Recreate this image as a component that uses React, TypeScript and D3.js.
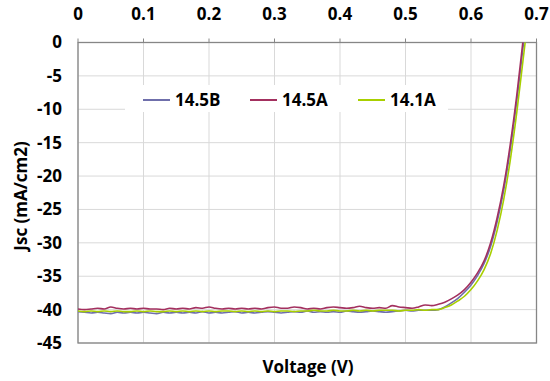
import * as d3 from "d3";

const voltage = [
  0, 0.01, 0.02, 0.03, 0.04, 0.05, 0.06, 0.07, 0.08, 0.09,
  0.1, 0.11, 0.12, 0.13, 0.14, 0.15, 0.16, 0.17, 0.18, 0.19,
  0.2, 0.21, 0.22, 0.23, 0.24, 0.25, 0.26, 0.27, 0.28, 0.29,
  0.3, 0.31, 0.32, 0.33, 0.34, 0.35, 0.36, 0.37, 0.38, 0.39,
  0.4, 0.41, 0.42, 0.43, 0.44, 0.45, 0.46, 0.47, 0.48, 0.49,
  0.5, 0.51, 0.52, 0.53, 0.54, 0.55, 0.56, 0.57, 0.58, 0.59,
  0.6, 0.61, 0.62, 0.63, 0.64, 0.65, 0.66, 0.67, 0.68, 0.69,
];

const j145B = [
  -40.3, -40.4, -40.5, -40.4, -40.5, -40.6, -40.4, -40.5, -40.4, -40.5,
  -40.4, -40.5, -40.6, -40.4, -40.5, -40.4, -40.5, -40.4, -40.5, -40.3,
  -40.5, -40.4, -40.5, -40.4, -40.3, -40.5, -40.4, -40.5, -40.4, -40.3,
  -40.4, -40.5, -40.4, -40.3, -40.4, -40.2, -40.4, -40.3, -40.4, -40.3,
  -40.4, -40.2, -40.3, -40.4, -40.3, -40.2, -40.3, -40.4, -40.3, -40.2,
  -40.1, -40.2, -40.1, -40.1, -40.1, -40.0, -39.6, -39.0, -38.3, -37.4,
  -36.3, -34.9, -33.1, -30.5, -26.8, -22.1, -16.0, -8.7, -0.3, 8,
];

const j145A = [
  -39.9, -40.0, -39.9, -39.8, -39.9, -39.6, -39.8, -39.9, -39.8, -39.9,
  -39.8, -39.9, -39.9, -40.0, -39.8, -39.9, -39.8, -39.9, -39.7, -39.8,
  -39.6, -39.8, -39.9, -39.8, -39.9, -39.8, -39.9, -39.8, -39.9, -39.7,
  -39.6, -39.8, -39.8, -39.6, -39.7, -39.9, -39.8, -39.9, -39.7, -39.6,
  -39.7, -39.8, -39.7, -39.5, -39.7, -39.8, -39.7, -39.8, -39.4, -39.6,
  -39.7, -39.8, -39.6, -39.3, -39.4, -39.2, -38.9, -38.4, -37.8, -37.0,
  -35.9, -34.5, -32.7, -30.0, -26.2, -21.4, -15.2, -7.8, 0.8, 9,
];

const j141A = [
  -40.2, -40.3, -40.2, -40.3, -40.2, -40.3, -40.2, -40.3, -40.3, -40.2,
  -40.3, -40.2, -40.3, -40.3, -40.2, -40.3, -40.2, -40.3, -40.2, -40.3,
  -40.2, -40.3, -40.2, -40.2, -40.3, -40.2, -40.3, -40.2, -40.3, -40.2,
  -40.3, -40.2, -40.2, -40.3, -40.2, -40.2, -40.1, -40.2, -40.2, -40.1,
  -40.2, -40.2, -40.1, -40.2, -40.1, -40.2, -40.1, -40.1, -40.1, -40.2,
  -40.1, -40.1, -40.0, -40.1, -40.0, -40.0, -39.7, -39.3, -38.7, -38.0,
  -37.0, -35.7, -34.0, -31.6, -28.1, -23.5, -17.6, -10.4, -2.2, 6,
];

const seriesNames = ["14.5B", "14.5A", "14.1A"];
const seriesValues = [j145B, j145A, j141A];
const seriesColors = ["#6f6fab", "#a3305f", "#a8cf00"];

const xTicks = [0, 0.1, 0.2, 0.3, 0.4, 0.5, 0.6, 0.7];
const yTicks = [0, -5, -10, -15, -20, -25, -30, -35, -40, -45];

const W = 550;
const H = 381;
const left = 78;
const right = 536.5;
const top = 42.5;
const bottom = 343;
const font = "'Open Sans', Lato, sans-serif";
const fs = 17;

export default function App() {
  const x = d3.scaleLinear().domain([0, 0.7]).range([left, right]);
  const y = d3.scaleLinear().domain([0, -45]).range([top, bottom]);

  const line = d3
    .line<[number, number]>()
    .x((d) => x(d[0]))
    .y((d) => y(d[1]))
    .curve(d3.curveMonotoneX);

  const legendX = [143, 250, 358];

  return (
    <svg
      width={W}
      height={H}
      style={{ position: "absolute", left: 0, top: 0, background: "#fff" }}
      fontFamily={font}
    >
      <defs>
        <clipPath id="plot">
          <rect x={left} y={top} width={right - left} height={bottom - top} />
        </clipPath>
      </defs>
      {/* grid */}
      {xTicks.map((t) => (
        <line key={"gx" + t} x1={x(t)} x2={x(t)} y1={top} y2={bottom} stroke="#d9d9d9" strokeWidth={1} />
      ))}
      {yTicks.map((t) => (
        <line key={"gy" + t} x1={left} x2={right} y1={y(t)} y2={y(t)} stroke="#d9d9d9" strokeWidth={1} />
      ))}
      {/* border */}
      <rect x={left} y={top} width={right - left} height={bottom - top} fill="none" stroke="#868686" strokeWidth={1.3} />
      {xTicks.map((t) => (
        <line key={"tx" + t} x1={x(t)} x2={x(t)} y1={top} y2={top - 4} stroke="#868686" strokeWidth={1} />
      ))}
      {/* series */}
      <g clipPath="url(#plot)">
        {seriesValues.map((vals, i) => (
          <path
            key={seriesNames[i]}
            d={line(voltage.map((v, k) => [v, vals[k]] as [number, number])) || ""}
            fill="none"
            stroke={seriesColors[i]}
            strokeWidth={1.6}
          />
        ))}
      </g>
      {/* legend */}
      <rect x={125} y={85} width={323} height={27} fill="#fff" />
      {seriesNames.map((n, i) => (
        <g key={"lg" + n}>
          <line x1={legendX[i]} x2={legendX[i] + 27} y1={100} y2={100} stroke={seriesColors[i]} strokeWidth={2} />
          <text x={legendX[i] + 32} y={100} dy="0.35em" fontSize={fs} fontWeight="bold" fill="#000">
            {n}
          </text>
        </g>
      ))}
      {/* tick labels */}
      {xTicks.map((t) => (
        <text key={"lx" + t} x={x(t)} y={14} dy="0.35em" textAnchor="middle" fontSize={fs} fontWeight="bold">
          {t}
        </text>
      ))}
      {yTicks.map((t) => (
        <text key={"ly" + t} x={62} y={y(t)} dy="0.35em" textAnchor="end" fontSize={fs} fontWeight="bold">
          {t}
        </text>
      ))}
      {/* axis titles */}
      <text x={308} y={367} dy="0.35em" textAnchor="middle" fontSize={fs} fontWeight="bold">
        Voltage (V)
      </text>
      <text
        transform={`translate(21, 196) rotate(-90)`}
        dy="0.35em"
        textAnchor="middle"
        fontSize={fs}
        fontWeight="bold"
      >
        Jsc (mA/cm2)
      </text>
    </svg>
  );
}
